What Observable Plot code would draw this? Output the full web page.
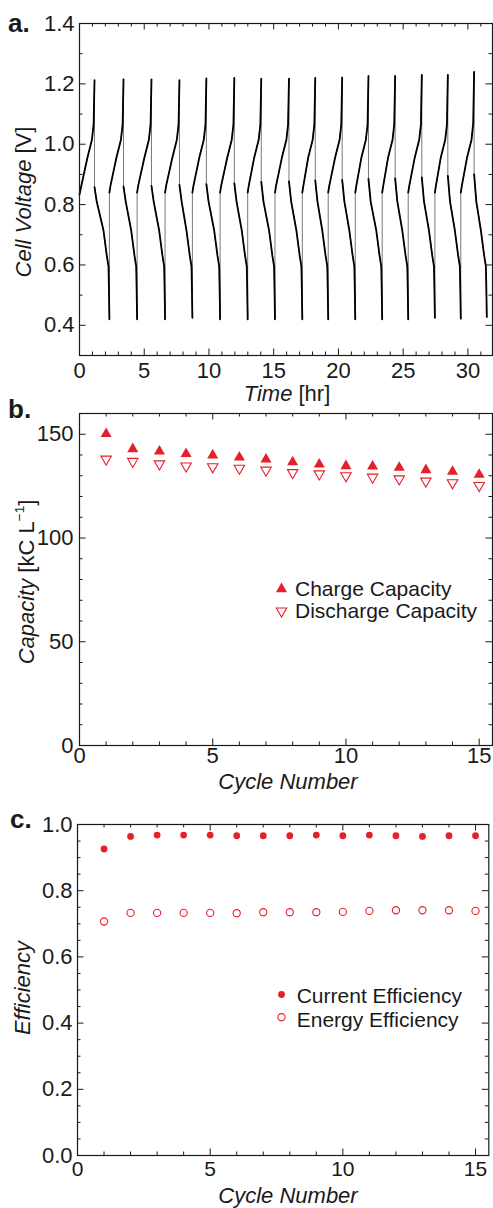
<!DOCTYPE html>
<html><head><meta charset="utf-8">
<script src="https://cdn.jsdelivr.net/npm/d3@7"></script>
<script src="https://cdn.jsdelivr.net/npm/@observablehq/plot@0.6"></script>
<style>
html,body{margin:0;padding:0;background:#fff;}
#chart{width:493px;}
#chart svg{display:block;overflow:visible;}
</style></head><body><div id="chart"></div>
<script>
// ---------- Panel a: cell voltage trace, [time (hr), voltage (V)] ----------
const chargeSegments = [
  [[0,0.833],[0.08,0.85],[0.61,0.955],[0.96,1.015],[1.09,1.065],[1.16,1.212]],
  [[2.31,0.84],[2.39,0.862],[2.85,0.955],[3.20,1.015],[3.33,1.065],[3.40,1.215]],
  [[4.45,0.84],[4.53,0.862],[5.01,0.955],[5.36,1.015],[5.49,1.065],[5.56,1.215]],
  [[6.61,0.84],[6.69,0.862],[7.17,0.955],[7.52,1.015],[7.65,1.065],[7.72,1.212]],
  [[8.72,0.84],[8.80,0.862],[9.25,0.955],[9.60,1.015],[9.73,1.065],[9.80,1.218]],
  [[10.86,0.84],[10.94,0.862],[11.41,0.955],[11.76,1.015],[11.89,1.065],[11.96,1.220]],
  [[12.99,0.84],[13.07,0.862],[13.49,0.955],[13.84,1.015],[13.97,1.065],[14.04,1.217]],
  [[15.10,0.84],[15.18,0.862],[15.63,0.955],[15.98,1.015],[16.11,1.065],[16.18,1.217]],
  [[17.21,0.84],[17.29,0.862],[17.66,0.955],[18.01,1.015],[18.14,1.065],[18.21,1.220]],
  [[19.21,0.84],[19.29,0.862],[19.74,0.955],[20.09,1.015],[20.22,1.065],[20.29,1.221]],
  [[21.30,0.84],[21.38,0.862],[21.77,0.955],[22.12,1.015],[22.25,1.065],[22.32,1.226]],
  [[23.38,0.84],[23.46,0.862],[23.83,0.955],[24.18,1.015],[24.31,1.065],[24.38,1.226]],
  [[25.39,0.84],[25.47,0.862],[25.89,0.955],[26.24,1.015],[26.37,1.065],[26.44,1.230]],
  [[27.45,0.84],[27.53,0.862],[27.90,0.955],[28.25,1.015],[28.38,1.065],[28.45,1.230]],
  [[29.45,0.84],[29.53,0.862],[29.93,0.955],[30.28,1.015],[30.41,1.07],[30.48,1.240]]
];
const dischargeSegments = [
  [[1.16,0.858],[1.33,0.81],[1.85,0.715],[2.11,0.63],[2.24,0.595],[2.27,0.53],[2.31,0.42]],
  [[3.40,0.86],[3.57,0.81],[3.99,0.715],[4.25,0.63],[4.38,0.595],[4.41,0.53],[4.45,0.42]],
  [[5.56,0.862],[5.73,0.81],[6.15,0.715],[6.41,0.63],[6.54,0.595],[6.57,0.53],[6.61,0.42]],
  [[7.72,0.865],[7.89,0.81],[8.26,0.715],[8.52,0.63],[8.65,0.595],[8.68,0.53],[8.72,0.425]],
  [[9.80,0.868],[9.97,0.81],[10.40,0.715],[10.66,0.63],[10.79,0.595],[10.82,0.53],[10.86,0.42]],
  [[11.96,0.87],[12.13,0.81],[12.53,0.715],[12.79,0.63],[12.92,0.595],[12.95,0.53],[12.99,0.42]],
  [[14.04,0.875],[14.21,0.81],[14.64,0.715],[14.90,0.63],[15.03,0.595],[15.06,0.53],[15.10,0.42]],
  [[16.18,0.877],[16.35,0.81],[16.75,0.715],[17.01,0.63],[17.14,0.595],[17.17,0.53],[17.21,0.42]],
  [[18.21,0.88],[18.38,0.81],[18.75,0.715],[19.01,0.63],[19.14,0.595],[19.17,0.53],[19.21,0.42]],
  [[20.29,0.882],[20.46,0.81],[20.84,0.715],[21.10,0.63],[21.23,0.595],[21.26,0.53],[21.30,0.42]],
  [[22.32,0.885],[22.49,0.81],[22.92,0.715],[23.18,0.63],[23.31,0.595],[23.34,0.53],[23.38,0.42]],
  [[24.38,0.887],[24.55,0.81],[24.93,0.715],[25.19,0.63],[25.32,0.595],[25.35,0.53],[25.39,0.42]],
  [[26.44,0.89],[26.61,0.81],[26.99,0.715],[27.25,0.63],[27.38,0.595],[27.41,0.53],[27.45,0.425]],
  [[28.45,0.895],[28.62,0.81],[28.99,0.715],[29.25,0.63],[29.38,0.595],[29.41,0.53],[29.45,0.422]],
  [[30.48,0.90],[30.65,0.81],[31.00,0.715],[31.26,0.63],[31.39,0.595],[31.42,0.53],[31.46,0.428]]
];
const timeTicks = [0, 5, 10, 15, 20, 25, 30];
const voltageTicks = [0.4, 0.6, 0.8, 1.0, 1.2, 1.4];

// ---------- Panel b: capacity per cycle (kC/L) ----------
const cycleNumbers = [1,2,3,4,5,6,7,8,9,10,11,12,13,14,15];
const chargeCapacity    = [150.2,142.9,141.8,140.6,139.9,138.9,137.9,136.6,135.5,134.7,134.5,133.9,132.8,132.0,130.6];
const dischargeCapacity = [138.0,136.9,135.7,134.7,134.3,133.6,132.7,131.5,130.9,130.0,129.3,128.5,127.4,126.6,125.3];
const cycleTicks = [0, 5, 10, 15];
const capacityTicks = [0, 50, 100, 150];
const capacityLegend = ["Charge Capacity", "Discharge Capacity"];

// ---------- Panel c: efficiencies per cycle ----------
const currentEfficiency = [0.926,0.964,0.968,0.968,0.968,0.966,0.966,0.966,0.968,0.966,0.968,0.966,0.964,0.966,0.966];
const energyEfficiency  = [0.707,0.733,0.733,0.733,0.733,0.732,0.735,0.735,0.735,0.736,0.739,0.741,0.741,0.741,0.739];
const efficiencyTicks = [0, 0.2, 0.4, 0.6, 0.8, 1.0];
const efficiencyLegend = ["Current Efficiency", "Energy Efficiency"];

// ---------- styling ----------
const FONT = "'Liberation Sans', Arial, Helvetica, sans-serif";
const INK = "#1a1a1a";
const RED = "#e5202a";
const W = 493;

// tables built from the arrays
const voltageRows = [];
chargeSegments.forEach((seg, i) => {
  seg.forEach(([t, v]) => voltageRows.push({seg: "c" + i, t, v}));
  dischargeSegments[i].forEach(([t, v]) => voltageRows.push({seg: "d" + i, t, v}));
});
const capRows = cycleNumbers.map((c, i) => ({c, charge: chargeCapacity[i], discharge: dischargeCapacity[i]}));
const effRows = cycleNumbers.map((c, i) => ({c, current: currentEfficiency[i], energy: energyEfficiency[i]}));

function minor(lo, hi, step, majors) {
  const out = [];
  for (let k = Math.round(lo / step); k * step <= hi + 1e-9; k++) {
    const v = +(k * step).toFixed(6);
    if (!majors.some(m => Math.abs(m - v) < 1e-9)) out.push(v);
  }
  return out;
}

// inward ticks on all four sides of the frame
function frameTicks(xMaj, xMin, yMaj, yMin, pw, ph) {
  const s = {stroke: INK, strokeWidth: 1};
  const L = 6.5, l = 3.5;
  return [
    Plot.tickY(yMaj, {y: d => d, insetRight: pw - L, ...s}),
    Plot.tickY(yMaj, {y: d => d, insetLeft: pw - L, ...s}),
    Plot.tickY(yMin, {y: d => d, insetRight: pw - l, ...s}),
    Plot.tickY(yMin, {y: d => d, insetLeft: pw - l, ...s}),
    Plot.tickX(xMaj, {x: d => d, insetTop: ph - L, ...s}),
    Plot.tickX(xMaj, {x: d => d, insetBottom: ph - L, ...s}),
    Plot.tickX(xMin, {x: d => d, insetTop: ph - l, ...s}),
    Plot.tickX(xMin, {x: d => d, insetBottom: ph - l, ...s})
  ];
}

function addText(svg, parts, {x, y, rotate = 0, anchor = "middle", size = 22, weight = "normal"}) {
  const t = d3.select(svg).append("text")
    .attr("transform", `translate(${x},${y}) rotate(${rotate})`)
    .attr("text-anchor", anchor)
    .attr("font-family", FONT)
    .attr("font-size", size)
    .attr("font-weight", weight)
    .attr("fill", INK);
  parts.forEach(p => {
    const ts = t.append("tspan").text(p.text);
    if (p.italic) ts.attr("font-style", "italic");
    if (p.sup) ts.attr("font-size", size * 0.62).attr("dy", -size * 0.42);
    if (p.unsup) ts.attr("dy", size * 0.42);
  });
}

const baseStyle = {fontFamily: FONT, fontSize: "22px", color: INK, background: "transparent", overflow: "visible"};
const root = document.getElementById("chart");

// ---------- Panel a ----------
{
  const mL = 79, mR = 1, mT = 23, mB = 50, H = 405;
  const pw = W - mL - mR, ph = H - mT - mB;
  const svg = Plot.plot({
    width: W, height: H, marginLeft: mL, marginRight: mR, marginTop: mT, marginBottom: mB,
    x: {domain: [0, 31.9]},
    y: {domain: [0.3, 1.4]},
    style: baseStyle,
    marks: [
      ...frameTicks(timeTicks, minor(0, 31.9, 1, timeTicks), voltageTicks, minor(0.3, 1.4, 0.1, voltageTicks), pw, ph),
      Plot.line(voltageRows, {x: "t", y: "v", stroke: "#555", strokeWidth: 0.8}),
      Plot.line(voltageRows, {x: "t", y: "v", z: "seg", stroke: "#000", strokeWidth: 1.8, strokeLinejoin: "round"}),
      Plot.frame({stroke: INK, strokeWidth: 1.2}),
      Plot.axisX(timeTicks, {anchor: "bottom", tickSize: 0, tickPadding: 7, label: null}),
      Plot.axisY(voltageTicks, {anchor: "left", tickSize: 0, tickPadding: 5, tickFormat: d => d.toFixed(1), label: null})
    ]
  });
  root.appendChild(svg);
  addText(svg, [{text: "a."}], {x: 8, y: 31.5, anchor: "start", size: 26, weight: "bold"});
  addText(svg, [{text: "Time", italic: true}, {text: " [hr]"}], {x: 287, y: 401});
  addText(svg, [{text: "Cell Voltage", italic: true}, {text: " [V]"}], {x: 31, y: 202, rotate: -90});
}

// ---------- Panel b ----------
{
  const mL = 79, mR = 1, mT = 8, mB = 60, H = 400;
  const pw = W - mL - mR, ph = H - mT - mB;
  const svg = Plot.plot({
    width: W, height: H, marginLeft: mL, marginRight: mR, marginTop: mT, marginBottom: mB,
    x: {domain: [0, 15.5]},
    y: {domain: [0, 160]},
    style: baseStyle,
    marks: [
      ...frameTicks(cycleTicks, minor(0, 15.5, 1, cycleTicks), capacityTicks, minor(0, 160, 10, capacityTicks), pw, ph),
      Plot.dot(capRows, {x: "c", y: "discharge", symbol: "triangle", rotate: 180, r: 3.9, fill: "white", stroke: RED, strokeWidth: 1.1}),
      Plot.dot(capRows, {x: "c", y: "charge", symbol: "triangle", r: 4.1, fill: RED, stroke: "none"}),
      Plot.dot([capacityLegend[0]], {frameAnchor: "top-left", dx: 202, dy: 175.5, symbol: "triangle", r: 4.1, fill: RED, stroke: "none"}),
      Plot.dot([capacityLegend[1]], {frameAnchor: "top-left", dx: 202, dy: 197.5, symbol: "triangle", rotate: 180, r: 3.9, fill: "white", stroke: RED, strokeWidth: 1.1}),
      Plot.frame({stroke: INK, strokeWidth: 1.2}),
      Plot.axisX(cycleTicks, {anchor: "bottom", tickSize: 0, tickPadding: 2, label: null}),
      Plot.axisY(capacityTicks, {anchor: "left", tickSize: 0, tickPadding: 6, label: null})
    ]
  });
  root.appendChild(svg);
  addText(svg, [{text: "b."}], {x: 8, y: 13.3, anchor: "start", size: 26, weight: "bold"});
  addText(svg, [{text: capacityLegend[0]}], {x: 295, y: 190.5, anchor: "start", size: 21});
  addText(svg, [{text: capacityLegend[1]}], {x: 295, y: 213, anchor: "start", size: 21});
  addText(svg, [{text: "Cycle Number", italic: true}], {x: 288, y: 383.5});
  addText(svg, [{text: "Capacity", italic: true}, {text: " [kC L"}, {text: "\u22121", sup: true}, {text: "]", unsup: true}], {x: 33.5, y: 177, rotate: -90});
}

// ---------- Panel c ----------
{
  const mL = 77, mR = 4.7, mT = 19, mB = 53, H = 403;
  const pw = W - mL - mR, ph = H - mT - mB;
  const svg = Plot.plot({
    width: W, height: H, marginLeft: mL, marginRight: mR, marginTop: mT, marginBottom: mB,
    x: {domain: [0, 15.5]},
    y: {domain: [0, 1]},
    style: baseStyle,
    marks: [
      ...frameTicks(cycleTicks, minor(0, 15.5, 1, cycleTicks), efficiencyTicks, minor(0, 1, 0.05, efficiencyTicks), pw, ph),
      Plot.dot(effRows, {x: "c", y: "energy", r: 3.6, fill: "white", stroke: RED, strokeWidth: 1.1}),
      Plot.dot(effRows, {x: "c", y: "current", r: 3.4, fill: RED, stroke: "none"}),
      Plot.dot([efficiencyLegend[0]], {frameAnchor: "top-left", dx: 204, dy: 170, r: 3.4, fill: RED, stroke: "none"}),
      Plot.dot([efficiencyLegend[1]], {frameAnchor: "top-left", dx: 204, dy: 192.7, r: 3.6, fill: "white", stroke: RED, strokeWidth: 1.1}),
      Plot.frame({stroke: INK, strokeWidth: 1.2}),
      Plot.axisX(cycleTicks, {anchor: "bottom", tickSize: 0, tickPadding: 6, fontSize: 21, label: null}),
      Plot.axisY(efficiencyTicks, {anchor: "left", tickSize: 0, tickPadding: 5, tickFormat: d => d.toFixed(1), label: null})
    ]
  });
  root.appendChild(svg);
  addText(svg, [{text: "c."}], {x: 10, y: 23, anchor: "start", size: 26, weight: "bold"});
  addText(svg, [{text: efficiencyLegend[0]}], {x: 296.7, y: 198.3, anchor: "start", size: 21});
  addText(svg, [{text: efficiencyLegend[1]}], {x: 296.7, y: 221.7, anchor: "start", size: 21});
  addText(svg, [{text: "Cycle Number", italic: true}], {x: 288, y: 397.5});
  addText(svg, [{text: "Efficiency", italic: true}], {x: 29.5, y: 183, rotate: -90});
}
</script>
</body></html>
